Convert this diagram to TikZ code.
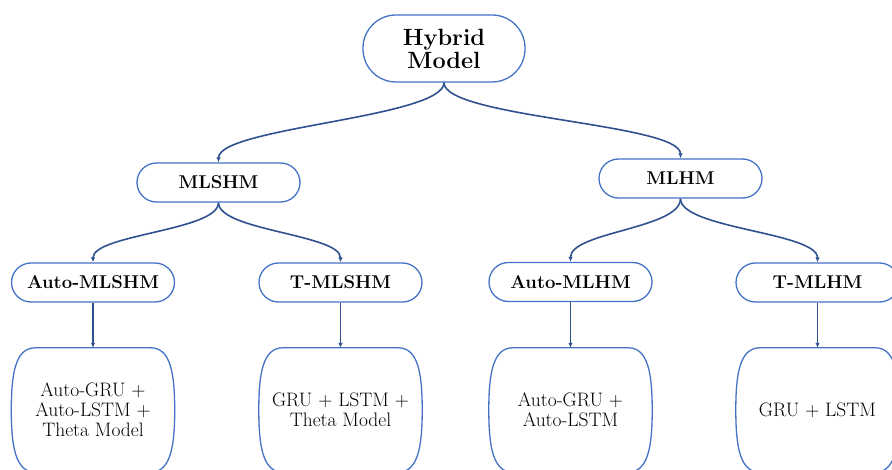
\documentclass[tikz,border=0pt]{standalone}
\usetikzlibrary{arrows.meta,calc}
\definecolor{boxblue}{RGB}{68,114,196}
\definecolor{linkblue}{RGB}{47,82,143}
\newcommand\eggbox[1]{%
  \draw[eggline] ($(#1.north west)+(24,0)$) -- ($(#1.north east)+(-24,0)$)
    .. controls ($(#1.north east)+(-4,0)$) and ($(#1.north east)+(0,26)$) .. (#1.east)
    .. controls ($(#1.south east)+(0,-26)$) and ($(#1.south east)+(-4,0)$) .. ($(#1.south east)+(-24,0)$)
    -- ($(#1.south west)+(24,0)$)
    .. controls ($(#1.south west)+(4,0)$) and ($(#1.south west)+(0,-26)$) .. (#1.west)
    .. controls ($(#1.north west)+(0,26)$) and ($(#1.north west)+(4,0)$) .. cycle;}
\begin{document}
\begin{tikzpicture}[x=1pt,y=-1pt,
  pill/.style={draw=boxblue,line width=1.3pt,rounded corners=19.5pt,
    minimum width=163pt,minimum height=39pt,inner sep=0pt,
    font=\fontsize{18.5}{20}\selectfont\bfseries},
  egg/.style={minimum width=163pt,minimum height=124pt,inner sep=0pt,
    align=center,font=\fontsize{19.5}{20}\selectfont},
  eggline/.style={draw=boxblue,line width=1.3pt},
  link/.style={draw=linkblue,line width=1.6pt,-{Latex[length=5pt,width=4.5pt]}}]
\useasboundingbox (0,0) rectangle (892,470);

\node[pill,minimum width=162pt,minimum height=67pt,rounded corners=33pt,
  align=center,font=\fontsize{23.5}{23}\selectfont\bfseries] (hm) at (444,48.5) {Hybrid\\Model};

\node[pill] (mlshm) at (218.5,182.5) {MLSHM};
\node[pill] (mlhm) at (680.5,178.5) {MLHM};

\node[pill] (amlshm) at (93,282.5) {Auto-MLSHM};
\node[pill] (tmlshm) at (340.5,282.5) {T-MLSHM};
\node[pill] (amlhm) at (570.5,282) {Auto-MLHM};
\node[pill] (tmlhm) at (817.5,282.5) {T-MLHM};

\node[egg] (b1) at (93,410) {Auto-GRU +\\Auto-LSTM +\\Theta Model};
\node[egg] (b2) at (340.5,410) {GRU + LSTM +\\Theta Model};
\node[egg] (b3) at (570.5,410) {Auto-GRU +\\Auto-LSTM};
\node[egg] (b4) at (817.5,410) {GRU + LSTM};
\eggbox{b1}\eggbox{b2}\eggbox{b3}\eggbox{b4}

\draw[link] (hm.south) .. controls +(0,35) and +(0,-35) .. (mlshm.north);
\draw[link] (hm.south) .. controls +(0,35) and +(0,-35) .. (mlhm.north);
\draw[link] (mlshm.south) .. controls +(0,28) and +(0,-28) .. (amlshm.north);
\draw[link] (mlshm.south) .. controls +(0,28) and +(0,-28) .. (tmlshm.north);
\draw[link] (mlhm.south) .. controls +(0,30) and +(0,-30) .. (amlhm.north);
\draw[link] (mlhm.south) .. controls +(0,30) and +(0,-30) .. (tmlhm.north);

\draw[link] (amlshm.south) -- (b1.north);
\draw[link] (tmlshm.south) -- (b2.north);
\draw[link] (amlhm.south) -- (b3.north);
\draw[link] (tmlhm.south) -- (b4.north);
\end{tikzpicture}
\end{document}
